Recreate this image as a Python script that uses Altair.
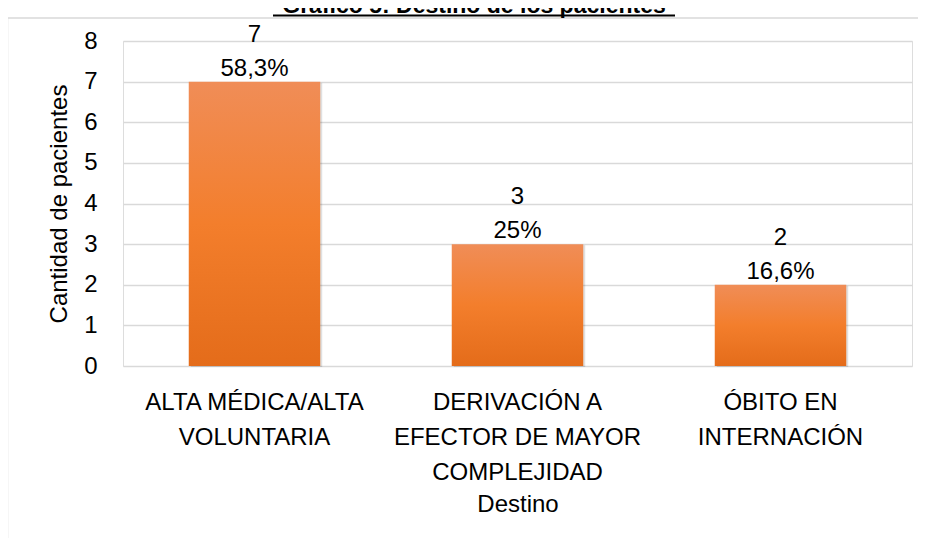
import altair as alt
import pandas as pd

categories = ["ALTA MÉDICA/ALTA\nVOLUNTARIA",
              "DERIVACIÓN A\nEFECTOR DE MAYOR\nCOMPLEJIDAD",
              "ÓBITO EN\nINTERNACIÓN"]
values = [7, 3, 2]
pct_labels = ["58,3%", "25%", "16,6%"]
title_text = ["Gráfico 5: Destino de los pacientes"]

df = pd.DataFrame({
    "Destino": categories,
    "Cantidad": values,
    "Etiqueta": [f"{v}\n{p}" for v, p in zip(values, pct_labels)],
})

FONT = "Liberation Sans"
W, H = 789, 325
PAD = {"left": 115, "top": 33, "right": 6, "bottom": 172}

x_enc = alt.X("Destino:N", sort=categories,
              scale=alt.Scale(paddingInner=0.5, paddingOuter=0.25),
              axis=alt.Axis(title="Destino", labelAngle=0,
                            labelExpr="split(datum.label, '\\n')",
                            labelFont=FONT, labelFontSize=24, labelLineHeight=35,
                            labelColor="#000000", labelPadding=24, labelLimit=0,
                            titleFont=FONT, titleFontSize=24, titleFontWeight="normal",
                            titleColor="#000000", titlePadding=8,
                            domain=False, ticks=False, grid=False))
y_enc = alt.Y("Cantidad:Q",
              scale=alt.Scale(domain=[0, 8], nice=False),
              axis=alt.Axis(title="Cantidad de pacientes", values=list(range(0, 9)),
                            labelFont=FONT, labelFontSize=24, labelColor="#000000",
                            labelPadding=26,
                            titleFont=FONT, titleFontSize=24, titleFontWeight="normal",
                            titleColor="#000000", titlePadding=12,
                            domain=False, ticks=False,
                            grid=True, gridColor="#D9D9D9", gridWidth=1.5))

base = alt.Chart(df)

shadow = base.mark_bar(color="#000000", opacity=0.12, xOffset=2, yOffset=1).encode(
    x=x_enc, y=y_enc)

bars = base.mark_bar(
    color=alt.LinearGradient(
        gradient="linear", x1=0, x2=0, y1=0, y2=1,
        stops=[alt.GradientStop(offset=0, color="#F08D57"),
               alt.GradientStop(offset=0.5, color="#F37E2C"),
               alt.GradientStop(offset=1, color="#E46C1A")])
).encode(x=x_enc, y=y_enc)

labels = base.mark_text(
    baseline="alphabetic", dy=-40, fontSize=24, font=FONT, lineBreak="\n",
    lineHeight=34, color="#000000"
).encode(x=x_enc, y=y_enc, text="Etiqueta:N")

frame = alt.Chart(pd.DataFrame({"t": [0]})).mark_rect(
    fillOpacity=0, stroke="#D9D9D9", strokeWidth=1.5
).encode(x=alt.value(-115.5), x2=alt.value(900), y=alt.value(-23), y2=alt.value(600))

title = alt.Chart(pd.DataFrame({"t": title_text})).mark_text(
    font=FONT, fontSize=23, fontWeight="bold", baseline="alphabetic",
    align="center", color="#000000"
).encode(x=alt.value(351), y=alt.value(-28), text="t:N")

underline = alt.Chart(pd.DataFrame({"t": [0]})).mark_rule(
    color="#000000", strokeWidth=2
).encode(x=alt.value(150), x2=alt.value(552), y=alt.value(-25.5))

chart = alt.layer(frame, shadow, bars, labels, title, underline).properties(
    width=W, height=H,
    autosize=alt.AutoSizeParams(type="none"),
    padding=PAD,
).configure_view(stroke=None).configure(background="#FFFFFF")

chart.save("out.html", embed_options={"renderer": "svg", "actions": False})
